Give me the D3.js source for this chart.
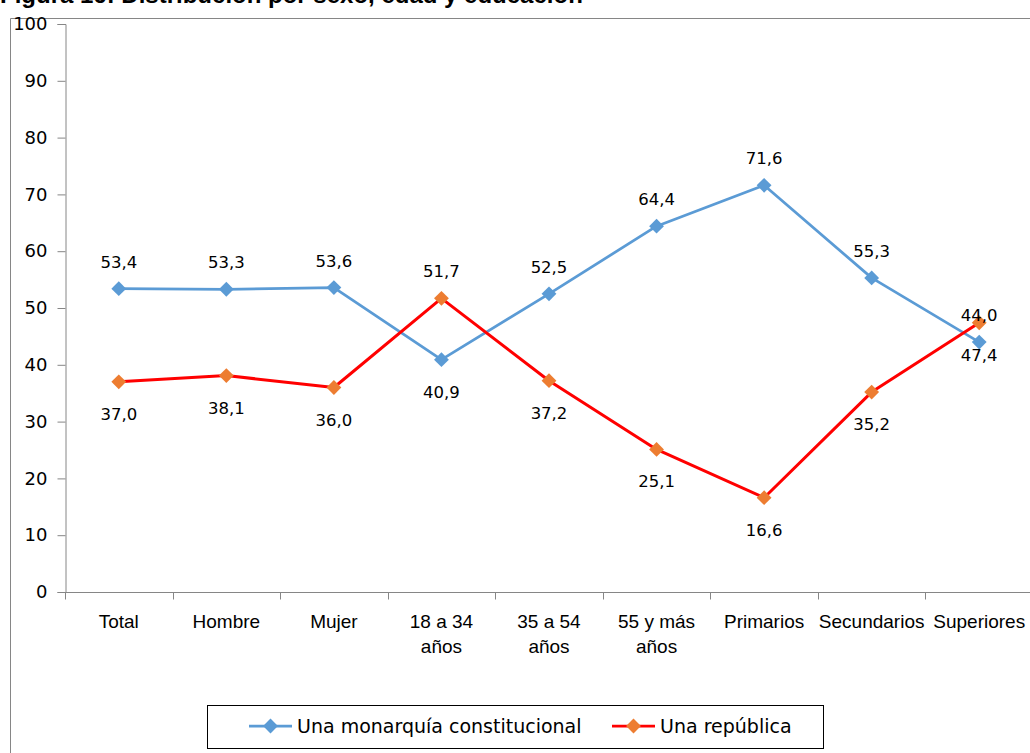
<!DOCTYPE html>
<html>
<head>
<meta charset="utf-8">
<script src="https://cdn.jsdelivr.net/npm/d3@7"></script>
<style>
  body { margin: 0; background: #fff; }
  svg { display: block; }
</style>
</head>
<body>
<svg id="chart" width="1030" height="753"></svg>
<script>
const categories = [
  "Total", "Hombre", "Mujer", "18 a 34 años", "35 a 54 años",
  "55 y más años", "Primarios", "Secundarios", "Superiores"
];
const monarquia = [53.4, 53.3, 53.6, 40.9, 52.5, 64.4, 71.6, 55.3, 44.0];
const republica = [37.0, 38.1, 36.0, 51.7, 37.2, 25.1, 16.6, 35.2, 47.4];
const seriesNames = ["Una monarquía constitucional", "Una república"];
const yTicks = [0, 10, 20, 30, 40, 50, 60, 70, 80, 90, 100];

const svg = d3.select("#chart");

// title, cut off by the top of the picture as in the original
svg.append("text")
  .attr("x", 0)
  .attr("y", 3)
  .attr("font-family", "Liberation Sans, Arial, sans-serif")
  .attr("font-weight", "bold")
  .attr("font-size", 24)
  .attr("fill", "#000")
  .text("Figura 16: Distribución por sexo, edad y educación");

// chart frame
svg.append("path")
  .attr("d", "M10.5,753 V18.5 H1030")
  .attr("fill", "none")
  .attr("stroke", "#868686")
  .attr("stroke-width", 1);

const x = d3.scaleBand().domain(categories).range([65, 1033]);
const y = d3.scaleLinear().domain([0, 100]).range([592, 24]);
const cx = d => x(d) + x.bandwidth() / 2;

// y axis
const yAxis = svg.append("g")
  .attr("transform", "translate(65.5,0)")
  .call(d3.axisLeft(y).tickValues(yTicks).tickSize(8).tickPadding(10).tickFormat(d3.format("d")));
yAxis.select(".domain").attr("stroke", "#868686");
yAxis.selectAll(".tick line").attr("stroke", "#868686");
yAxis.selectAll(".tick text")
  .attr("font-family", "DejaVu Sans, sans-serif")
  .attr("font-size", 18)
  .attr("fill", "#000");

// x axis, ticks between the categories
const xAxisG = svg.append("g").attr("transform", "translate(0,592.5)");
xAxisG.append("line")
  .attr("x1", 65).attr("x2", 1033)
  .attr("stroke", "#868686");
xAxisG.selectAll(".sep")
  .data(categories.concat(["end"]))
  .enter()
  .append("line")
  .attr("x1", (d, i) => Math.round(i < categories.length ? x(d) : x.range()[1]) + 0.5)
  .attr("x2", (d, i) => Math.round(i < categories.length ? x(d) : x.range()[1]) + 0.5)
  .attr("y1", 0).attr("y2", 7)
  .attr("stroke", "#868686");

// category labels, wrapped on two lines like the original
const wrapAt = { "18 a 34 años": ["18 a 34", "años"], "35 a 54 años": ["35 a 54", "años"], "55 y más años": ["55 y más", "años"] };
xAxisG.selectAll(".cat")
  .data(categories)
  .enter()
  .append("text")
  .attr("text-anchor", "middle")
  .attr("font-family", "Liberation Sans Narrow, Arial Narrow, Liberation Sans, sans-serif")
  .attr("font-size", 19)
  .attr("fill", "#000")
  .each(function (d) {
    const lines = wrapAt[d] || [d];
    d3.select(this).selectAll("tspan")
      .data(lines)
      .enter()
      .append("tspan")
      .attr("x", cx(d))
      .attr("y", (t, i) => 35 + i * 25)
      .text(t => t);
  });

const blue = "#5B9BD5";
const red = "#FF0000";
const orange = "#ED7D31";

const line = d3.line()
  .x((d, i) => cx(categories[i]))
  .y(d => y(d));

const diamond = d3.symbol().type(d3.symbolDiamond2).size(140);

function drawSeries(values, lineColor, markerColor, width) {
  svg.append("path")
    .datum(values)
    .attr("d", line)
    .attr("fill", "none")
    .attr("stroke", lineColor)
    .attr("stroke-width", width)
    .attr("stroke-linejoin", "round");
  svg.selectAll(null)
    .data(values)
    .enter()
    .append("path")
    .attr("d", diamond)
    .attr("transform", (d, i) => `translate(${cx(categories[i])},${y(d)})`)
    .attr("fill", markerColor);
}

drawSeries(monarquia, blue, blue, 2.75);
drawSeries(republica, red, orange, 3);

// data labels: monarquía above, república below, except where they cross
const fmt = v => d3.format(".1f")(v).replace(".", ",");
const flipped = ["18 a 34 años"];
function drawLabels(values, above) {
  svg.selectAll(null)
    .data(values)
    .enter()
    .append("text")
    .attr("x", (d, i) => cx(categories[i]))
    .attr("y", (d, i) => {
      const up = flipped.includes(categories[i]) ? !above : above;
      return y(d) + (up ? -21 : 38);
    })
    .attr("text-anchor", "middle")
    .attr("font-family", "DejaVu Sans, sans-serif")
    .attr("font-size", 16.5)
    .attr("fill", "#000")
    .text(d => fmt(d));
}
drawLabels(monarquia, true);
drawLabels(republica, false);

// legend
const legend = svg.append("g");
legend.append("rect")
  .attr("x", 207.5).attr("y", 705.5)
  .attr("width", 616).attr("height", 43)
  .attr("fill", "#fff")
  .attr("stroke", "#000");
const legendItems = [
  { name: seriesNames[0], line: blue, marker: blue, x: 249 },
  { name: seriesNames[1], line: red, marker: orange, x: 612 }
];
legendItems.forEach(item => {
  legend.append("line")
    .attr("x1", item.x).attr("x2", item.x + 43)
    .attr("y1", 726).attr("y2", 726)
    .attr("stroke", item.line)
    .attr("stroke-width", 2.75);
  legend.append("path")
    .attr("d", diamond)
    .attr("transform", `translate(${item.x + 21.5},726)`)
    .attr("fill", item.marker);
  legend.append("text")
    .attr("x", item.x + 48)
    .attr("y", 733)
    .attr("font-family", "DejaVu Sans, sans-serif")
    .attr("font-size", 19)
    .attr("fill", "#000")
    .text(item.name);
});
</script>
</body>
</html>
